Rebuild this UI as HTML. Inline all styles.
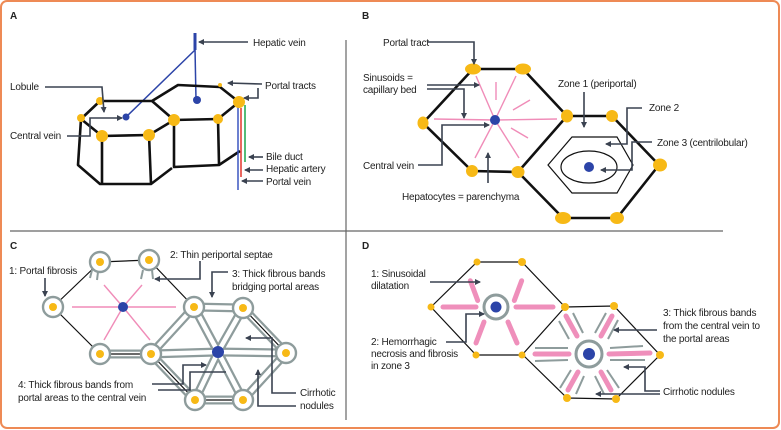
<!DOCTYPE html>
<html><head><meta charset="utf-8"><style>
html,body{margin:0;padding:0;background:#fff;}
svg{display:block;}
text{font-family:"Liberation Sans",sans-serif;font-size:10px;fill:#222;letter-spacing:-0.2px;}
.h{font-weight:bold;font-size:10px;}
.k{stroke:#111;stroke-width:2.6;fill:none;stroke-linejoin:round;}
.t{stroke:#111;stroke-width:1.2;fill:none;}
.a{stroke:#3a4250;stroke-width:1.6;fill:none;}
.y{fill:#f7b916;}
.b{fill:#2c44a8;}
.p{stroke:#f08cb8;stroke-width:1.4;fill:none;}
.P{stroke:#ef8fbb;stroke-width:5;stroke-linecap:round;fill:none;}
.g{stroke:#8e9c9c;stroke-width:2.4;fill:none;}
.gt{stroke:#8e9c9c;stroke-width:2;fill:none;}
</style></head><body>
<svg width="781" height="430" viewBox="0 0 781 430" xmlns="http://www.w3.org/2000/svg">
<defs><marker id="m" markerWidth="6" markerHeight="6" refX="5" refY="3" orient="auto" markerUnits="userSpaceOnUse"><path d="M0,0 L6,3 L0,6 z" fill="#3a4250"/></marker></defs>
<rect x="1" y="1" width="778" height="427" rx="6" fill="#fff" stroke="#ee8a55" stroke-width="2"/>
<line x1="346" y1="40" x2="346" y2="420" stroke="#666" stroke-width="1.2"/>
<line x1="10" y1="231" x2="723" y2="231" stroke="#666" stroke-width="1.2"/>

<!-- A -->
<text class="h" x="10" y="19">A</text>
<line x1="195" y1="33" x2="195" y2="50" stroke="#2c44a8" stroke-width="3"/>
<line x1="195" y1="48" x2="196" y2="100" stroke="#2c44a8" stroke-width="1.5"/>
<line x1="195" y1="50" x2="126" y2="117" stroke="#2c44a8" stroke-width="1.5"/>
<circle class="b" cx="197" cy="100" r="4"/><circle class="b" cx="126" cy="117" r="3.5"/>
<path class="k" d="M81,119 L100,101 L152,101 L174,120 L149,135 L102,136 Z M102,136 L102,184 M149,135 L151,184 M81,119 L78,165 L100,184 L151,184 L172,168 M152,101 L178,85 L220,87 L239,102 L218,119 L174,120 M174,120 L174,167 L219,165 L240,151 M218,119 L219,164"/>
<line x1="238" y1="105" x2="238" y2="190" stroke="#3b55c0" stroke-width="1.5"/>
<line x1="241" y1="108" x2="241" y2="177" stroke="#e3342b" stroke-width="1.5"/>
<line x1="245" y1="105" x2="245" y2="162" stroke="#1ba64a" stroke-width="1.5"/>
<circle class="y" cx="100" cy="101" r="4"/><circle class="y" cx="81" cy="118" r="4"/><circle class="y" cx="102" cy="136" r="6"/><circle class="y" cx="149" cy="135" r="6"/><circle class="y" cx="174" cy="120" r="6"/><circle class="y" cx="218" cy="119" r="5"/><circle class="y" cx="239" cy="102" r="6"/><circle class="y" cx="220" cy="85" r="2"/>
<text x="253" y="46">Hepatic vein</text><line class="a" x1="248" y1="42" x2="199" y2="42" marker-end="url(#m)"/>
<text x="265" y="89">Portal tracts</text><path class="a" d="M262,84 L228,83" marker-end="url(#m)"/><path class="a" d="M258,88 L258,98 L244,98" marker-end="url(#m)"/>
<text x="10" y="90">Lobule</text><path class="a" d="M45,87 L102,87 L104,112" marker-end="url(#m)"/>
<text x="10" y="139">Central vein</text><path class="a" d="M67,136 L90,136 L90,118 L122,118" marker-end="url(#m)"/>
<text x="266" y="160">Bile duct</text><line class="a" x1="263" y1="157" x2="249" y2="157" marker-end="url(#m)"/>
<text x="266" y="172">Hepatic artery</text><line class="a" x1="263" y1="170" x2="245" y2="170" marker-end="url(#m)"/>
<text x="266" y="185">Portal vein</text><line class="a" x1="263" y1="181" x2="242" y2="181" marker-end="url(#m)"/>

<!-- B -->
<text class="h" x="362" y="19">B</text>
<path class="k" d="M473,69 L523,69 L567,116 L518,172 L472,171 L423,123 Z M567,116 L612,116 L659,165 L617,218 L563,218 L518,172"/>
<g class="p"><line x1="495" y1="120" x2="476" y2="76"/><line x1="495" y1="120" x2="516" y2="76"/><line x1="495" y1="120" x2="434" y2="119"/><line x1="495" y1="120" x2="557" y2="119"/><line x1="495" y1="120" x2="475" y2="158"/><line x1="495" y1="120" x2="519" y2="158"/><line x1="496" y1="82" x2="496" y2="100"/><line x1="530" y1="100" x2="513" y2="110"/><line x1="528" y1="138" x2="511" y2="128"/></g>
<circle class="b" cx="495" cy="120" r="5"/>
<g class="y"><ellipse cx="473" cy="69" rx="8" ry="5.5"/><ellipse cx="523" cy="69" rx="8" ry="5.5"/><ellipse cx="423" cy="123" rx="5.5" ry="6.5"/><ellipse cx="567" cy="116" rx="6" ry="6.5"/><ellipse cx="518" cy="172" rx="6.5" ry="6"/><ellipse cx="472" cy="171" rx="6" ry="6"/><ellipse cx="612" cy="116" rx="6" ry="6"/><ellipse cx="660" cy="165" rx="7" ry="6.5"/><ellipse cx="617" cy="218" rx="7" ry="6"/><ellipse cx="563" cy="218" rx="8" ry="6"/></g>
<path class="t" d="M548,165 L572,137 L617,137 L633,165 L617,193 L572,193 Z"/>
<ellipse class="t" cx="589" cy="167" rx="28" ry="16"/>
<circle class="b" cx="589" cy="167" r="5"/>
<text x="383" y="46">Portal tract</text><path class="a" d="M428,42 L474,42 L474,64" marker-end="url(#m)"/>
<text x="363" y="81">Sinusoids =</text><text x="363" y="93">capillary bed</text>
<path class="a" d="M427,85 L479,85" marker-end="url(#m)"/><path class="a" d="M427,89 L464,89 L464,118" marker-end="url(#m)"/>
<text x="363" y="169">Central vein</text><path class="a" d="M418,165 L442,165 L442,125 L489,125" marker-end="url(#m)"/>
<text x="402" y="200">Hepatocytes = parenchyma</text><path class="a" d="M488,183 L488,153" marker-end="url(#m)"/>
<text x="558" y="87">Zone 1 (periportal)</text><path class="a" d="M584,92 L584,127" marker-end="url(#m)"/>
<text x="649" y="111">Zone 2</text><path class="a" d="M642,108 L627,108 L627,144 L606,144" marker-end="url(#m)"/>
<text x="657" y="146">Zone 3 (centrilobular)</text><path class="a" d="M652,142 L632,142 L632,170 L601,170" marker-end="url(#m)"/>

<!-- C -->
<text class="h" x="10" y="249">C</text>
<path class="t" d="M100,262 L149,260 L194,307 M53,307 L100,262 M53,307 L100,354"/>
<g class="p"><line x1="123" y1="307" x2="104" y2="285"/><line x1="123" y1="307" x2="142" y2="285"/><line x1="123" y1="307" x2="72" y2="307"/><line x1="123" y1="307" x2="176" y2="307"/><line x1="123" y1="307" x2="104" y2="340"/><line x1="123" y1="307" x2="150" y2="340"/></g>
<g class="g">
<path d="M100,354 L151,354 M194,307 L243,308 M243,308 L286,353 M286,353 L243,400 M243,400 L195,400 M195,400 L151,354 M151,354 L194,307 M218,352 L194,307 M218,352 L243,308 M218,352 L286,353 M218,352 L243,400 M218,352 L195,400 M218,352 L151,354" stroke-width="9"/>
</g>
<g stroke="#fff" stroke-width="4.5" fill="none">
<path d="M100,354 L151,354 M194,307 L243,308 M243,308 L286,353 M286,353 L243,400 M243,400 L195,400 M195,400 L151,354 M151,354 L194,307 M218,352 L194,307 M218,352 L243,308 M218,352 L286,353 M218,352 L243,400 M218,352 L195,400 M218,352 L151,354"/>
</g>
<path class="t" d="M100,354 L151,354 M195,400 L243,400 M243,308 L286,353 M151,354 L195,400"/>
<g class="g" fill="#fff">
<circle cx="100" cy="262" r="10" fill="#fff"/><circle cx="149" cy="260" r="10" fill="#fff"/><circle cx="53" cy="307" r="10" fill="#fff"/><circle cx="100" cy="354" r="10" fill="#fff"/><circle cx="151" cy="354" r="10" fill="#fff"/><circle cx="194" cy="307" r="10" fill="#fff"/><circle cx="243" cy="308" r="10" fill="#fff"/><circle cx="286" cy="353" r="10" fill="#fff"/><circle cx="243" cy="400" r="10" fill="#fff"/><circle cx="195" cy="400" r="10" fill="#fff"/>
</g>
<path class="gt" d="M92,270 L90,278 M98,272 L97,280 M143,270 L141,279 M152,270 L153,279"/>
<g class="y"><circle cx="100" cy="262" r="4"/><circle cx="149" cy="260" r="4"/><circle cx="53" cy="307" r="4"/><circle cx="100" cy="354" r="4"/><circle cx="151" cy="354" r="4"/><circle cx="194" cy="307" r="4"/><circle cx="243" cy="308" r="4"/><circle cx="286" cy="353" r="4"/><circle cx="243" cy="400" r="4"/><circle cx="195" cy="400" r="4"/></g>
<circle class="b" cx="123" cy="307" r="5"/><circle class="b" cx="218" cy="352" r="6"/>
<text x="9" y="274">1: Portal fibrosis</text><path class="a" d="M45,278 L45,296" marker-end="url(#m)"/>
<text x="170" y="258">2: Thin periportal septae</text><path class="a" d="M200,261 L200,279 L155,279" marker-end="url(#m)"/>
<text x="232" y="277">3: Thick fibrous bands</text><text x="232" y="290">bridging portal areas</text><path class="a" d="M228,272 L212,272 L212,297" marker-end="url(#m)"/>
<text x="18" y="388">4: Thick fibrous bands from</text><text x="18" y="401">portal areas to the central vein</text>
<path class="a" d="M152,384 L183,384 L183,365 L206,365" marker-end="url(#m)"/><path class="a" d="M158,390 L190,390 L190,372 L226,372"/>
<text x="300" y="396">Cirrhotic</text><text x="300" y="409">nodules</text>
<path class="a" d="M296,393 L272,393 L272,338 L246,338" marker-end="url(#m)"/><path class="a" d="M296,406 L258,406 L258,370" marker-end="url(#m)"/>

<!-- D -->
<text class="h" x="362" y="249">D</text>
<path class="t" d="M477,262 L522,262 L565,307 L522,355 L476,355 L431,307 Z M565,307 L614,306 L660,355 L616,399 L567,398 L523,355"/>
<g class="P">
<line x1="480" y1="296" x2="478" y2="275" transform="rotate(-15 496 307)"/>
<line x1="512" y1="296" x2="514" y2="275" transform="rotate(15 496 307)"/>
<line x1="476" y1="307" x2="443" y2="307"/><line x1="516" y1="307" x2="553" y2="307"/>
<line x1="484" y1="322" x2="476" y2="343"/><line x1="508" y1="322" x2="517" y2="343"/>
</g>
<circle cx="496" cy="307" r="12" fill="#fff" stroke="#8e9c9c" stroke-width="3"/>
<circle class="b" cx="496" cy="307" r="5.5"/>
<g class="P">
<line x1="577" y1="336" x2="566" y2="316"/><line x1="601" y1="336" x2="612" y2="316"/>
<line x1="569" y1="354" x2="535" y2="354"/><line x1="609" y1="354" x2="650" y2="353"/>
<line x1="578" y1="372" x2="568" y2="390"/><line x1="601" y1="372" x2="611" y2="390"/>
</g>
<g class="gt" stroke-width="2.2">
<line x1="569" y1="339" x2="559" y2="321"/><line x1="583" y1="333" x2="573" y2="313"/>
<line x1="595" y1="333" x2="606" y2="313"/><line x1="608" y1="339" x2="618" y2="320"/>
<line x1="568" y1="348" x2="535" y2="348"/><line x1="568" y1="360" x2="535" y2="361"/>
<line x1="610" y1="348" x2="643" y2="346"/><line x1="610" y1="360" x2="645" y2="360"/>
<line x1="571" y1="370" x2="560" y2="388"/><line x1="584" y1="376" x2="576" y2="394"/>
<line x1="595" y1="376" x2="604" y2="394"/><line x1="607" y1="370" x2="619" y2="388"/>
</g>
<circle cx="589" cy="354" r="13" fill="#fff" stroke="#8e9c9c" stroke-width="3"/>
<circle class="b" cx="589" cy="354" r="6"/>
<g class="y"><circle cx="477" cy="262" r="3.5"/><circle cx="522" cy="262" r="4"/><circle cx="431" cy="307" r="3.5"/><circle cx="565" cy="307" r="4"/><circle cx="522" cy="355" r="3.5"/><circle cx="476" cy="355" r="3.5"/><circle cx="614" cy="306" r="4"/><circle cx="660" cy="355" r="4"/><circle cx="616" cy="399" r="4"/><circle cx="567" cy="398" r="4"/></g>
<text x="371" y="277">1: Sinusoidal</text><text x="371" y="289">dilatation</text><path class="a" d="M430,282 L480,282" marker-end="url(#m)"/>
<text x="371" y="345">2: Hemorrhagic</text><text x="371" y="357">necrosis and fibrosis</text><text x="371" y="369">in zone 3</text>
<path class="a" d="M446,342 L466,342 L466,314 L484,314" marker-end="url(#m)"/>
<text x="663" y="316">3: Thick fibrous bands</text><text x="663" y="329">from the central vein to</text><text x="663" y="342">the portal areas</text>
<path class="a" d="M657,330 L614,330" marker-end="url(#m)"/>
<text x="663" y="395">Cirrhotic nodules</text>
<path class="a" d="M660,391 L645,391 L645,367 L624,367" marker-end="url(#m)"/><path class="a" d="M660,394 L596,394" marker-end="url(#m)"/>
</svg>
</body></html>
